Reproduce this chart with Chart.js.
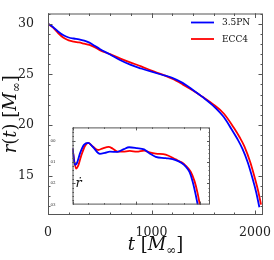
<!DOCTYPE html>
<html lang="en">
<head>
<meta charset="UTF-8">
<title>r(t): 3.5PN vs ECC4</title>
<script src="https://cdn.jsdelivr.net/npm/chart.js"></script>
<style>
  html, body { margin: 0; padding: 0; background: #fff; }
  #wrap { position: relative; width: 274px; height: 260px; }
  #main { position: absolute; left: 0; top: 0; }
  #inset { position: absolute; left: 50px; top: 116px; }
</style>
</head>
<body>
<div id="wrap">
  <canvas id="main" width="274" height="260"></canvas>
  <canvas id="inset" width="164" height="100"></canvas>
</div>
<script>
  const seriesLabels = ['3.5PN', 'ECC4'];
  const seriesColors = ['#0000ff', '#ff0000'];

  // main panel: r(t)
  const tPN  = [0, 50, 100, 150, 200, 250, 300, 350, 400, 450, 500, 600, 700, 800, 900, 1000, 1100, 1200, 1300, 1400, 1500, 1600, 1700, 1770, 1830, 1880, 1930, 1977, 2010, 2042];
  const rPN  = [30.0, 29.65, 29.2, 28.85, 28.63, 28.53, 28.45, 28.32, 28.12, 27.82, 27.5, 26.95, 26.38, 25.92, 25.57, 25.25, 24.95, 24.65, 24.15, 23.45, 22.7, 21.85, 20.75, 19.62, 18.6, 17.6, 16.28, 14.67, 13.4, 11.86];
  const tECC = [0, 50, 100, 150, 200, 250, 300, 350, 400, 450, 500, 600, 700, 800, 900, 1000, 1100, 1200, 1300, 1400, 1500, 1600, 1700, 1800, 1850, 1897, 1955, 2000, 2032, 2058];
  const rECC = [30.0, 29.6, 29.05, 28.6, 28.35, 28.22, 28.14, 28.02, 27.9, 27.68, 27.38, 26.98, 26.55, 26.15, 25.78, 25.35, 24.98, 24.55, 24.0, 23.4, 22.72, 22.0, 21.1, 19.64, 18.8, 17.88, 16.28, 14.67, 13.4, 12.12];
  const mainXTicks = [0, 1000, 2000];
  const mainYTicks = [15, 20, 25, 30];

  // inset: r-dot
  const tdPN  = [0, 39, 70, 117, 179, 246, 319, 428, 506, 584, 704, 802, 885, 1005, 1119, 1207, 1301, 1457, 1613, 1706, 1768, 1831, 1877, 1924, 1960];
  const rdPN  = [-0.0035, -0.0114, -0.0105, -0.006, -0.002, -0.0011, -0.003, -0.0062, -0.0058, -0.0052, -0.0053, -0.004, -0.0031, -0.0035, -0.0041, -0.006, -0.0076, -0.0082, -0.0091, -0.0105, -0.0121, -0.0148, -0.019, -0.025, -0.0305];
  const tdECC = [0, 55, 86, 132, 195, 246, 319, 402, 475, 564, 631, 704, 787, 896, 1005, 1119, 1207, 1301, 1457, 1613, 1706, 1768, 1846, 1908, 1955, 1994];
  const rdECC = [-0.0037, -0.0131, -0.012, -0.0075, -0.0025, -0.0011, -0.0028, -0.0044, -0.0036, -0.0029, -0.0038, -0.0052, -0.0052, -0.0048, -0.0052, -0.0047, -0.0055, -0.0061, -0.0066, -0.0088, -0.0102, -0.0117, -0.0145, -0.019, -0.0245, -0.0305];
  const insetYTicks = [0, -0.01, -0.02, -0.03];
  const insetXTicks = [0, 1000, 2000];

  const pts = (xs, ys) => xs.map((x, i) => ({ x: x, y: ys[i] }));
  const SERIF = '"DejaVu Serif", "Liberation Serif", serif';

  function line(label, color, data) {
    return { label: label, data: data, borderColor: color, borderWidth: 1.8,
             pointRadius: 0, fill: false, cubicInterpolationMode: 'monotone' };
  }

  // frame with inward ticks on all four sides
  const boxTicks = {
    id: 'boxTicks',
    beforeDatasetsDraw(chart, args, o) {
      if (!o.background) return;
      const a = chart.chartArea;
      chart.ctx.save();
      chart.ctx.fillStyle = '#fff';
      chart.ctx.fillRect(a.left, a.top, a.right - a.left, a.bottom - a.top);
      chart.ctx.restore();
    },
    afterDatasetsDraw(chart, args, o) {
      const { ctx, chartArea: a, scales: { x, y } } = chart;
      ctx.save();
      ctx.strokeStyle = '#555';
      ctx.lineWidth = 1;
      ctx.beginPath();
      const steps = (step, lo, hi) => {
        const out = [];
        for (let v = Math.ceil(lo / step) * step; v <= hi + 1e-9; v += step) out.push(v);
        return out;
      };
      const ticksX = (vals, len) => vals.forEach(v => {
        const p = Math.round(x.getPixelForValue(v)) + 0.5;
        if (p < a.left - 0.5 || p > a.right + 0.5) return;
        ctx.moveTo(p, a.bottom); ctx.lineTo(p, a.bottom - len);
        ctx.moveTo(p, a.top); ctx.lineTo(p, a.top + len);
      });
      const ticksY = (vals, len) => vals.forEach(v => {
        const p = Math.round(y.getPixelForValue(v)) + 0.5;
        if (p < a.top - 0.5 || p > a.bottom + 0.5) return;
        ctx.moveTo(a.left, p); ctx.lineTo(a.left + len, p);
        ctx.moveTo(a.right, p); ctx.lineTo(a.right - len, p);
      });
      ticksX(steps(o.xMinor, x.min, x.max), o.minorLen);
      ticksX(o.xMajor, o.majorLen);
      ticksY(steps(o.yMinor, y.min, y.max), o.minorLen);
      ticksY(o.yMajor, o.majorLen);
      ctx.stroke();
      ctx.strokeRect(a.left + 0.5, a.top + 0.5, a.right - a.left - 1, a.bottom - a.top - 1);
      ctx.restore();
    }
  };

  // axis titles with subscripts, and the legend
  const mainLabels = {
    id: 'mainLabels',
    afterDraw(chart) {
      const ctx = chart.ctx;
      const a = chart.chartArea;
      const parts = [
        ['italic 18px ' + SERIF, 'r', 0], ['18px ' + SERIF, '(', 0], ['italic 18px ' + SERIF, 't', 0],
        ['18px ' + SERIF, ') [', 0], ['italic 18px ' + SERIF, 'M', 0], ['12px ' + SERIF, '\u221e', 4],
        ['18px ' + SERIF, ']', 0]
      ];
      const drawParts = (list, cx, cy) => {
        let w = 0;
        list.forEach(p => { ctx.font = p[0]; w += ctx.measureText(p[1]).width; });
        let xx = cx - w / 2;
        list.forEach(p => { ctx.font = p[0]; ctx.fillText(p[1], xx, cy + p[2]); xx += ctx.measureText(p[1]).width; });
      };
      ctx.save();
      ctx.fillStyle = '#111';
      ctx.textBaseline = 'alphabetic';
      // x title
      drawParts([parts[2], ['18px ' + SERIF, ' [', 0], parts[4], parts[5], parts[6]], (a.left + a.right) / 2, 250);
      // y title
      ctx.save();
      ctx.translate(16, (a.top + a.bottom) / 2);
      ctx.rotate(-Math.PI / 2);
      drawParts(parts, 0, 0);
      ctx.restore();
      // legend
      ctx.font = '9px ' + SERIF;
      ctx.textBaseline = 'middle';
      ctx.lineWidth = 1.8;
      chart.data.datasets.forEach((ds, i) => {
        const yy = 22.5 + i * 16.5;
        ctx.strokeStyle = ds.borderColor;
        ctx.beginPath(); ctx.moveTo(191, yy); ctx.lineTo(214, yy); ctx.stroke();
        ctx.fillText(ds.label, 222, yy + 0.5);
      });
      ctx.restore();
    }
  };

  const insetLabel = {
    id: 'insetLabel',
    afterDraw(chart) {
      const ctx = chart.ctx;
      ctx.save();
      ctx.fillStyle = '#111';
      ctx.font = 'italic 13px ' + SERIF;
      ctx.textBaseline = 'alphabetic';
      ctx.fillText('\u1e59', chart.chartArea.left + 3, 71);
      ctx.restore();
    }
  };

  new Chart(document.getElementById('main'), {
    type: 'line',
    data: { datasets: [
      line(seriesLabels[0], seriesColors[0], pts(tPN, rPN)),
      line(seriesLabels[1], seriesColors[1], pts(tECC, rECC))
    ] },
    options: {
      responsive: false, animation: false, devicePixelRatio: 1,
      layout: { padding: { top: 6.5, right: 11, left: 0, bottom: 0 } },
      plugins: {
        legend: { display: false }, tooltip: { enabled: false },
        boxTicks: { xMajor: mainXTicks, xMinor: 200, yMajor: mainYTicks, yMinor: 1, majorLen: 4.5, minorLen: 2.5 }
      },
      scales: {
        x: {
          type: 'linear', min: 0, max: 2077,
          afterBuildTicks: s => { s.ticks = mainXTicks.map(v => ({ value: v })); },
          afterFit: s => { s.height = 45; },
          grid: { display: false }, border: { display: false },
          ticks: { padding: 2, color: '#222', font: { family: SERIF, size: 12.5 }, maxRotation: 0,
                   callback: v => String(v) }
        },
        y: {
          min: 11.1, max: 31,
          afterBuildTicks: s => { s.ticks = mainYTicks.map(v => ({ value: v })); },
          afterFit: s => { s.width = 48; },
          grid: { display: false }, border: { display: false },
          ticks: { padding: 6, color: '#222', font: { family: SERIF, size: 12.5 } }
        }
      }
    },
    plugins: [boxTicks, mainLabels]
  });

  new Chart(document.getElementById('inset'), {
    type: 'line',
    data: { datasets: [
      line(seriesLabels[0], seriesColors[0], pts(tdPN, rdPN)),
      line(seriesLabels[1], seriesColors[1], pts(tdECC, rdECC))
    ] },
    options: {
      responsive: false, animation: false, devicePixelRatio: 1,
      layout: { padding: { top: 5.7, right: 4, left: 0, bottom: 0 } },
      plugins: {
        legend: { display: false }, tooltip: { enabled: false },
        boxTicks: { background: true, xMajor: insetXTicks, xMinor: 250, yMajor: insetYTicks, yMinor: 0.002, majorLen: 3, minorLen: 1.5 }
      },
      scales: {
        x: {
          type: 'linear', min: 0, max: 2150,
          afterFit: s => { s.height = 6.5; },
          grid: { display: false }, border: { display: false },
          ticks: { display: false }
        },
        y: {
          min: -0.03, max: 0.0062,
          afterBuildTicks: s => { s.ticks = insetYTicks.map(v => ({ value: v })); },
          afterFit: s => { s.width = 22.5; },
          grid: { display: false }, border: { display: false },
          ticks: {
            padding: 9, color: '#333', font: { family: SERIF, size: 4 },
            callback: v => (v < 0 ? '\u2212' : '') + Math.abs(v).toFixed(2)
          }
        }
      }
    },
    plugins: [boxTicks, insetLabel]
  });
</script>
</body>
</html>
